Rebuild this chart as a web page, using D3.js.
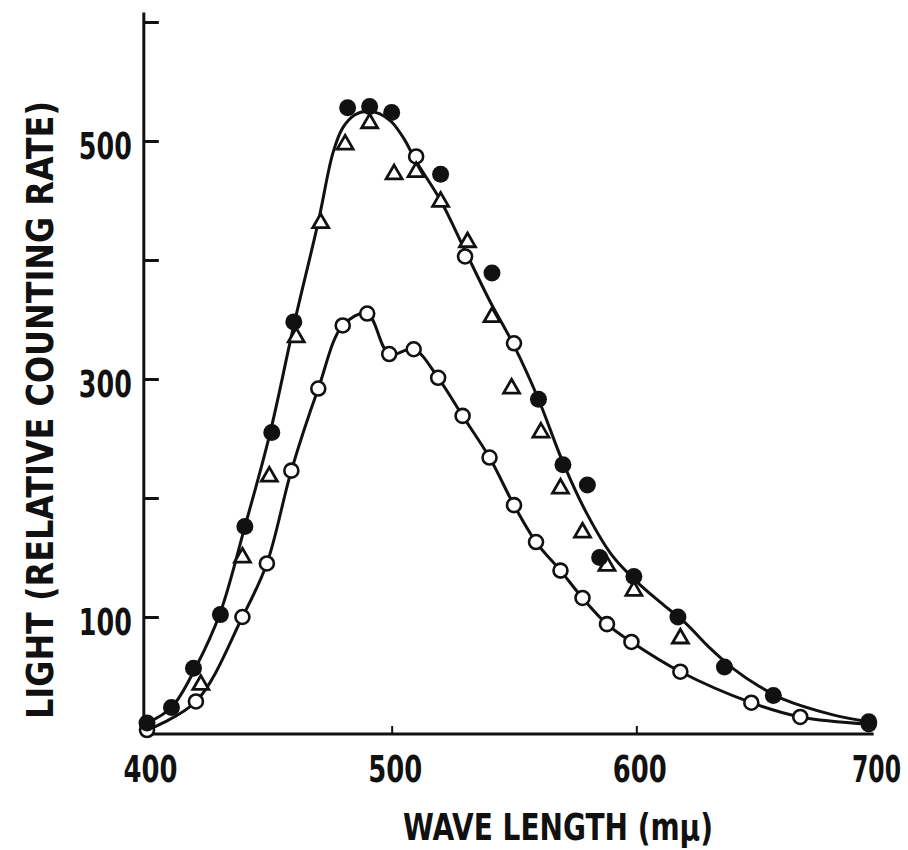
<!DOCTYPE html>
<meta charset="utf-8">
<style>
body { margin: 0; background: #fff; }
text {
  font-family: "Liberation Sans Narrow", "Arial Narrow", "DejaVu Sans Condensed", sans-serif;
  font-weight: bold;
  fill: #111;
}
.curve { fill: none; stroke: #111; stroke-width: 3px; }
</style>
<body>
<script src="https://cdn.jsdelivr.net/npm/d3@7"></script>
<script>

// tick values
var xTicks = [400, 500, 600, 700];
var yTicks = [100, 200, 300, 400, 500, 600];
var yLabels = [100, 300, 500];

// filled circles [wave length, counting rate]
var filled = [
  [400, 11], [410, 24], [419, 57], [430, 102], [440, 176], [451, 255],
  [460, 348], [482, 528], [491, 529], [500, 524], [520, 472], [541, 389],
  [560, 283], [570, 228], [580, 211], [585, 150], [599, 134], [617, 100],
  [636, 58], [656, 34], [695, 12]
];

// open triangles
var triangles = [
  [422, 43], [439, 150], [450, 218], [461, 335], [471, 431], [481, 497],
  [491, 515], [501, 472], [510, 474], [520, 449], [531, 415], [541, 352],
  [549, 292], [561, 255], [569, 208], [578, 171], [588, 143], [599, 122],
  [618, 82]
];

// open circles lying on the upper curve
var openUpper = [[510, 487], [530, 403], [550, 330]];

// open circles, lower curve
var openLower = [
  [400, 5], [420, 29], [439, 100], [449, 145], [459, 223], [470, 292],
  [480, 345], [490, 355], [499, 321], [509, 325], [519, 301], [529, 269],
  [540, 234], [550, 194], [559, 163], [569, 139], [578, 116], [588, 94],
  [598, 79], [618, 54], [647, 28], [667, 16], [695, 10]
];

// upper curve as drawn
var upperCurve = [
  [400, 11], [410, 24], [420, 58], [430, 104], [440, 176], [450, 252],
  [460, 345], [470, 432], [476, 490], [480, 511], [485, 522], [490, 525],
  [495, 523], [500, 516], [505, 502], [510, 483], [520, 450], [530, 408],
  [540, 366], [550, 328], [560, 283], [570, 230], [580, 186], [590, 152],
  [600, 130], [610, 112], [620, 95], [630, 74], [640, 56], [650, 42],
  [660, 31], [680, 18], [695, 12]
];

var width = 908, height = 850;

// scales
var x = d3.scaleLinear().domain([400, 700]).range([147, 881]);
var y = d3.scaleLinear().domain([0, 600]).range([736, 22]);

var svg = d3.select("body").append("svg")
    .attr("width", width)
    .attr("height", height);

var line = d3.line()
    .x(function(d) { return x(d[0]); })
    .y(function(d) { return y(d[1]); })
    .curve(d3.curveCatmullRom.alpha(0.5));

// squeeze a label horizontally to a given width (narrow print face)
function squeeze(sel, w, dx) {
  sel.each(function(d) {
    var t = d3.select(this);
    var len = this.getComputedTextLength();
    var s = len > 0 ? w(d) / len : 1;
    t.attr("transform", "translate(" + dx(d) + ",0) scale(" + s + ",1)");
  });
}

// y axis, ticks pointing inward
var yAxis = svg.append("g")
    .attr("transform", "translate(" + x(398.7) + ",0)")
    .call(d3.axisLeft(y)
      .tickValues(yTicks)
      .tickSizeInner(-15)
      .tickSizeOuter(0)
      .tickPadding(0)
      .tickFormat(function(d) { return yLabels.indexOf(d) >= 0 ? d : ""; }));
yAxis.select(".domain").remove();
yAxis.selectAll(".tick line").attr("stroke", "#111").attr("stroke-width", 3);
yAxis.selectAll(".tick text")
    .filter(function(d) { return yLabels.indexOf(d) >= 0; })
    .attr("x", 0)
    .attr("dy", "0.47em")
    .style("font-size", "38px")
    .style("font-family", null)
    .call(squeeze, function() { return 53; }, function() { return -12; });
yAxis.append("line")
    .attr("y1", y(0) - 1)
    .attr("y2", y(608))
    .attr("stroke", "#111")
    .attr("stroke-width", 3);

// x axis
var xAxis = svg.append("g")
    .attr("transform", "translate(0," + (y(0) - 2) + ")")
    .call(d3.axisBottom(x)
      .tickValues(xTicks)
      .tickSizeInner(-8)
      .tickSizeOuter(0));
xAxis.select(".domain").remove();
xAxis.append("line")
    .attr("x1", x(399))
    .attr("x2", x(697))
    .attr("stroke", "#111")
    .attr("stroke-width", 3);
xAxis.selectAll(".tick line")
    .attr("stroke", "#111")
    .attr("stroke-width", 2)
    .style("display", function(d) { return (d == 400 || d == 700) ? "none" : null; });
xAxis.selectAll(".tick text")
    .attr("y", 48)
    .attr("dy", 0)
    .style("font-size", "38px")
    .style("font-family", null)
    .call(squeeze,
      function(d) { return d == 700 ? 49 : 54; },
      function(d) { return d == 700 ? -5 : 3; });

// axis titles
svg.append("text")
    .attr("x", 558)
    .attr("y", 840)
    .attr("text-anchor", "middle")
    .attr("textLength", 310)
    .attr("lengthAdjust", "spacingAndGlyphs")
    .style("font-size", "38px")
    .text("WAVE LENGTH (mμ)");

svg.append("text")
    .attr("transform", "translate(53,410) rotate(-90)")
    .attr("text-anchor", "middle")
    .attr("textLength", 618)
    .attr("lengthAdjust", "spacingAndGlyphs")
    .style("font-size", "38px")
    .text("LIGHT (RELATIVE COUNTING RATE)");

// curves
svg.append("path").datum(upperCurve).attr("class", "curve").attr("d", line);
svg.append("path").datum(openLower).attr("class", "curve").attr("d", line);

// markers
svg.selectAll(".open")
    .data(openLower.concat(openUpper))
  .enter().append("circle")
    .attr("cx", function(d) { return x(d[0]); })
    .attr("cy", function(d) { return y(d[1]); })
    .attr("r", 7)
    .attr("fill", "#fff")
    .attr("stroke", "#111")
    .attr("stroke-width", 2.6);

svg.selectAll(".tri")
    .data(triangles)
  .enter().append("path")
    .attr("transform", function(d) { return "translate(" + x(d[0]) + "," + y(d[1]) + ")"; })
    .attr("d", d3.symbol(d3.symbolTriangle, 110))
    .attr("fill", "#fff")
    .attr("stroke", "#111")
    .attr("stroke-width", 2.8);

svg.selectAll(".dot")
    .data(filled)
  .enter().append("circle")
    .attr("cx", function(d) { return x(d[0]); })
    .attr("cy", function(d) { return y(d[1]); })
    .attr("r", 8.5)
    .attr("fill", "#111");

</script>
</body>
